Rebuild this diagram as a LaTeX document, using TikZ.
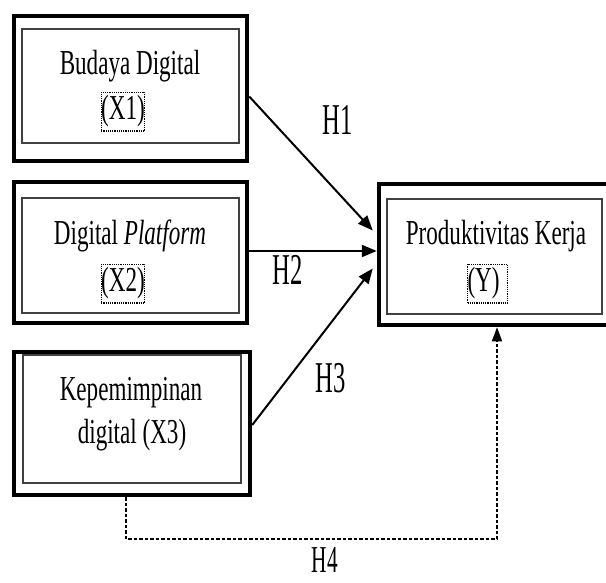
\documentclass[tikz,border=0pt]{standalone}
\usepackage{fontspec}
\setmainfont{Liberation Serif}
\newfontfamily\boxfont[FakeStretch=0.66]{Liberation Serif}
\newfontfamily\hfont[FakeStretch=0.56]{Liberation Serif}
\usetikzlibrary{arrows.meta,calc}
\tikzset{
  outerbox/.style={draw=black, line width=4.5pt, minimum width=#1, inner sep=0pt},
  innerbox/.style={draw=black!75, line width=2pt, inner sep=0pt},
  btext/.style={font=\boxfont\fontsize{35}{40}\selectfont, anchor=base, inner sep=0pt},
  fieldbox/.style={btext, draw=black, densely dotted, line width=1.2pt, inner xsep=0pt, inner ysep=3.5pt},
  hlabel/.style={font=\hfont\fontsize{44}{48}\selectfont, anchor=base, inner sep=0pt},
  link/.style={draw=black, line width=2pt, -{Triangle[length=15pt,width=12pt]}},
  dlink/.style={draw=black, line width=1.6pt, dash pattern=on 3.5pt off 2pt, -{Triangle[length=14pt,width=10pt]}}
}
\begin{document}
\begin{tikzpicture}[x=1pt, y=-1pt]
\useasboundingbox (0,0) rectangle (606,583);
\clip (0,0) rectangle (606,583);
\fill[white] (0,0) rectangle (606,583);
% boxes
\node[outerbox=233pt, minimum height=145pt] (b1) at (130.5,88.5) {};
\node[innerbox, minimum width=217pt, minimum height=114pt] (b1i) at (130.5,86) {};
\node[outerbox=233pt, minimum height=141pt] (b2) at (130.5,252.5) {};
\node[innerbox, minimum width=217pt, minimum height=115pt] (b2i) at (130.5,255.5) {};
\node[outerbox=236pt, minimum height=143pt] (b3) at (132,423.5) {};
\node[innerbox, minimum width=218pt, minimum height=128pt] (b3i) at (132,418.5) {};
\node[outerbox=236pt, minimum height=141pt] (y) at (497,254.5) {};
\node[innerbox, minimum width=215pt, minimum height=115pt] (yi) at (494.5,256.5) {};
% texts
\node[btext] (t1) at (130,75) {Budaya Digital};
\node[fieldbox] (x1) at (123,120) {(X1)};
\node[btext] (t2) at (130,245) {Digital \textit{Platform}};
\node[fieldbox] (x2) at (123,292) {(X2)};
\node[btext] (t3a) at (131,400) {Kepemimpinan};
\node[btext] (t3b) at (132,443) {digital (X3)};
\node[btext] (ty) at (496,245) {Produktivitas Kerja};
\node[fieldbox, text width=40pt, align=left] (xy) at (487.5,292) {(Y)};
% connectors
\draw[link] ($(b1.east)+(0,8)$) -- ($(y.west)+(-4,-24)$);
\draw[link] ($(b2.east)+(0,-1.5)$) -- ($(y.west)+(0,-3.5)$);
\draw[link] ($(b3.east)+(0,1.5)$) -- ($(y.west)+(-4,14)$);
\coordinate (c1) at ($(b3.south)+(-6,42)$);
\draw[dlink] ($(b3.south)+(-6,0)$) -- (c1) -| (y.south);
% labels
\node[hlabel] (h1) at (338,135) {H1};
\node[hlabel] (h2) at (288,285) {H2};
\node[hlabel] (h3) at (331,392) {H3};
\node[hlabel, font=\hfont\fontsize{38}{42}\selectfont] (h4) at (325,572) {H4};
\end{tikzpicture}
\end{document}
